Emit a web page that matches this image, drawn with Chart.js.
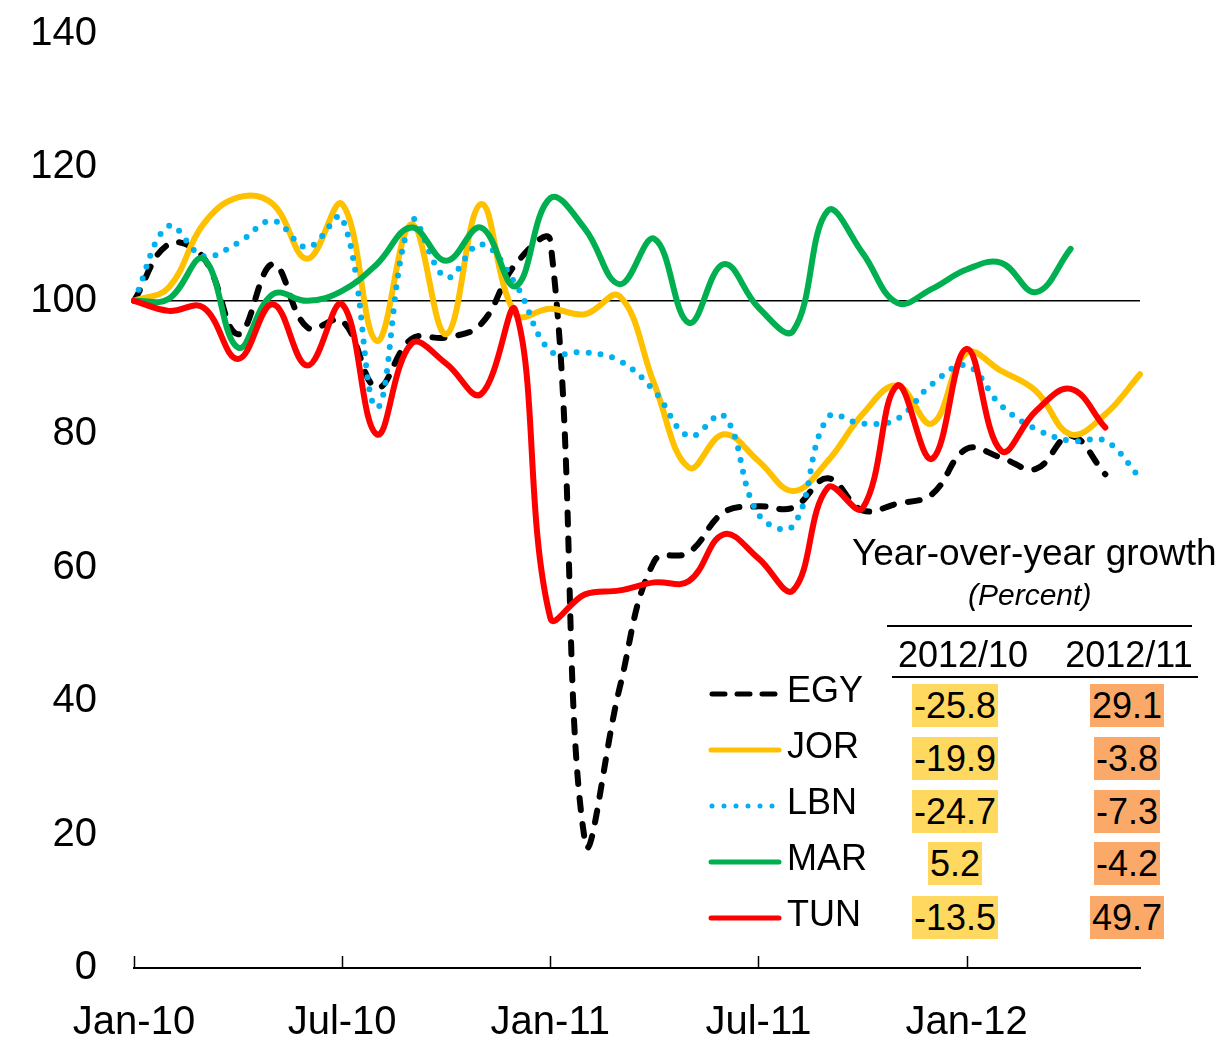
<!DOCTYPE html>
<html>
<head>
<meta charset="utf-8">
<script src="https://cdn.jsdelivr.net/npm/chart.js@4.4.1/dist/chart.umd.min.js"></script>
<style>
  body { margin: 0; background: #fff; font-family: "Liberation Sans", Arial, sans-serif; color: #000; }
  #wrap { position: relative; width: 1227px; height: 1040px; }
  .abs { position: absolute; white-space: nowrap; }
  .leg { font-size: 36px; line-height: 40px; }
  .cell { width: 160px; text-align: center; font-size: 36px; line-height: 40px; }
  .cell span { padding: 1px 2px; }
  .oct span { background: #FFD85F; }
  .nov span { background: #FBA968; }
</style>
</head>
<body>
<div id="wrap">
  <canvas id="lineChart" width="1227" height="1040"></canvas>
</div>
<script>
const months = ['Jan-10','Feb-10','Mar-10','Apr-10','May-10','Jun-10','Jul-10','Aug-10','Sep-10','Oct-10','Nov-10','Dec-10',
  'Jan-11','Feb-11','Mar-11','Apr-11','May-11','Jun-11','Jul-11','Aug-11','Sep-11','Oct-11','Nov-11','Dec-11',
  'Jan-12','Feb-12','Mar-12','Apr-12','May-12','Jun-12'];
const tickLabels = ['Jan-10','Jul-10','Jan-11','Jul-11','Jan-12'];

const egy = [100,108.5,106.5,95,105.5,96,97,87,94.3,94.5,96.5,105.5,109,19,42,61,62.3,68.3,69.2,69,73.4,68.6,69.6,71,77.8,76.5,74.8,79.8,74];
const jor = [100,102,111.5,115.5,114.5,106.3,114.5,94,111.5,95,114.5,98,98.8,98,100.7,87.5,75,80,76,71.5,76,83,87.3,81.6,92.2,89.5,86.5,80,83,89];
const lbn = [100,111.2,106.7,108.7,112,108,112.4,84,112,103.5,108.5,102.5,92.5,92.3,91,86.5,79.7,82.8,68,66.3,82.5,81.6,82.3,87.5,90.3,84.3,80.8,79,79,73.5];
const mar = [100,100.3,106.3,93,101,100,101.5,105.5,111,106,111,102.2,115.4,110.8,102.5,109.3,96.7,105.5,99,95.5,113.5,107.2,99.7,101.8,104.7,105.7,101.3,107.8];
const tun = [100,98.5,99,91.3,99.5,90.3,99.5,80,93.6,90.6,86,98.5,52.5,56,56.6,57.8,58,65,61.4,56.6,72,68.9,87.3,76.3,92.8,77.5,83.5,86.8,81];

const countries = ['EGY','JOR','LBN','MAR','TUN'];
const growthOct = ['-25.8','-19.9','-24.7','5.2','-13.5'];
const growthNov = ['29.1','-3.8','-7.3','-4.2','49.7'];

const colors = {
  EGY: '#000000',
  JOR: '#FFC000',
  LBN: '#00B0F0',
  MAR: '#00B050',
  TUN: '#FF0000'
};

Chart.defaults.font.family = '"Liberation Sans", Arial, sans-serif';
Chart.defaults.color = '#000';

function lineSet(label, data, order, dash) {
  return {
    label: label,
    data: data,
    borderColor: colors[label],
    borderWidth: 6,
    borderDash: dash || [],
    borderCapStyle: 'round',
    borderJoinStyle: 'round',
    pointRadius: 0,
    tension: 0.4,
    fill: false,
    order: order
  };
}

// small tick marks pointing up from the date axis
const innerTicks = {
  id: 'innerTicks',
  afterDraw(chart) {
    const xs = chart.scales.x;
    const ctx = chart.ctx;
    ctx.save();
    ctx.strokeStyle = '#000';
    ctx.lineWidth = 1.5;
    months.forEach((m, i) => {
      if (!tickLabels.includes(m)) return;
      const x = Math.round(xs.getPixelForValue(i)) + 0.5;
      ctx.beginPath();
      ctx.moveTo(x, xs.top);
      ctx.lineTo(x, xs.top - 12);
      ctx.stroke();
    });
    ctx.restore();
  }
};

const ctx = document.querySelector('#lineChart').getContext('2d');
const lineChart = new Chart(ctx, {
  type: 'line',
  data: {
    labels: months,
    datasets: [
      lineSet('EGY', egy, 5, [12, 14]),
      lineSet('JOR', jor, 4),
      lineSet('LBN', lbn, 3, [0, 12]),
      lineSet('MAR', mar, 2),
      lineSet('TUN', tun, 1)
    ]
  },
  options: {
    responsive: false,
    animation: false,
    layout: { padding: { top: 34, right: 87, bottom: 0, left: 0 } },
    scales: {
      x: {
        type: 'category',
        offset: false,
        afterFit: s => { s.height = 72; },
        grid: { display: false },
        border: { display: true, color: '#000', width: 2 },
        ticks: {
          autoSkip: false,
          maxRotation: 0,
          padding: 23,
          font: { size: 40 },
          callback: function (val) {
            const lab = this.getLabelForValue(val);
            return tickLabels.includes(lab) ? lab : '';
          }
        }
      },
      y: {
        min: 0,
        max: 140,
        afterFit: s => { s.width = 134; s.paddingTop = 0; s.paddingBottom = 0; },
        border: { display: false },
        grid: {
          drawTicks: false,
          lineWidth: 1.5,
          color: c => (c.tick && c.tick.value === 100) ? '#000' : 'rgba(0,0,0,0)'
        },
        ticks: { stepSize: 20, padding: 37, font: { size: 40 } }
      }
    },
    plugins: {
      legend: { display: false },
      tooltip: { enabled: false }
    }
  },
  plugins: [innerTicks]
});

// legend and growth table drawn as html text on top of the canvas
const wrap = document.querySelector('#wrap');
function addDiv(cls, html, left, top) {
  const d = document.createElement('div');
  d.className = 'abs ' + cls;
  d.innerHTML = html;
  d.style.left = left + 'px';
  d.style.top = top + 'px';
  wrap.appendChild(d);
  return d;
}

const legRows = [690, 746, 802, 858, 914];
const svgLine = {
  EGY: '<line x1="4" y1="5" x2="70" y2="5" stroke="#000" stroke-width="5" stroke-linecap="round" stroke-dasharray="13 12"/>',
  JOR: '<line x1="3" y1="5" x2="71" y2="5" stroke="#FFC000" stroke-width="5" stroke-linecap="round"/>',
  LBN: '<line x1="4" y1="5" x2="70" y2="5" stroke="#00B0F0" stroke-width="5" stroke-linecap="round" stroke-dasharray="0 12"/>',
  MAR: '<line x1="3" y1="5" x2="71" y2="5" stroke="#00B050" stroke-width="5" stroke-linecap="round"/>',
  TUN: '<line x1="3" y1="5" x2="71" y2="5" stroke="#FF0000" stroke-width="5" stroke-linecap="round"/>'
};
countries.forEach((c, i) => {
  addDiv('', '<svg width="74" height="10">' + svgLine[c] + '</svg>', 708, legRows[i] - 5);
  addDiv('leg', c, 787, legRows[i] - 20);
});

addDiv('', 'Year-over-year growth', 852, 532).style.fontSize = '37px';
const pct = addDiv('', '(Percent)', 968, 578);
pct.style.fontSize = '30px';
pct.style.fontStyle = 'italic';

const rule1 = addDiv('', '', 887, 625);
rule1.style.cssText += 'width:305px;height:0;border-top:2px solid #000;';
const rule2 = addDiv('', '', 892, 676);
rule2.style.cssText += 'width:306px;height:0;border-top:2px solid #000;';

const h1 = addDiv('cell', '2012/10', 963 - 80, 635);
const h2 = addDiv('cell', '2012/11', 1129 - 80, 635);

const tabRows = [706, 759, 812, 864, 918];
growthOct.forEach((v, i) => {
  addDiv('cell oct', '<span>' + v + '</span>', 955 - 80, tabRows[i] - 20);
  addDiv('cell nov', '<span>' + growthNov[i] + '</span>', 1127 - 80, tabRows[i] - 20);
});
</script>
</body>
</html>
